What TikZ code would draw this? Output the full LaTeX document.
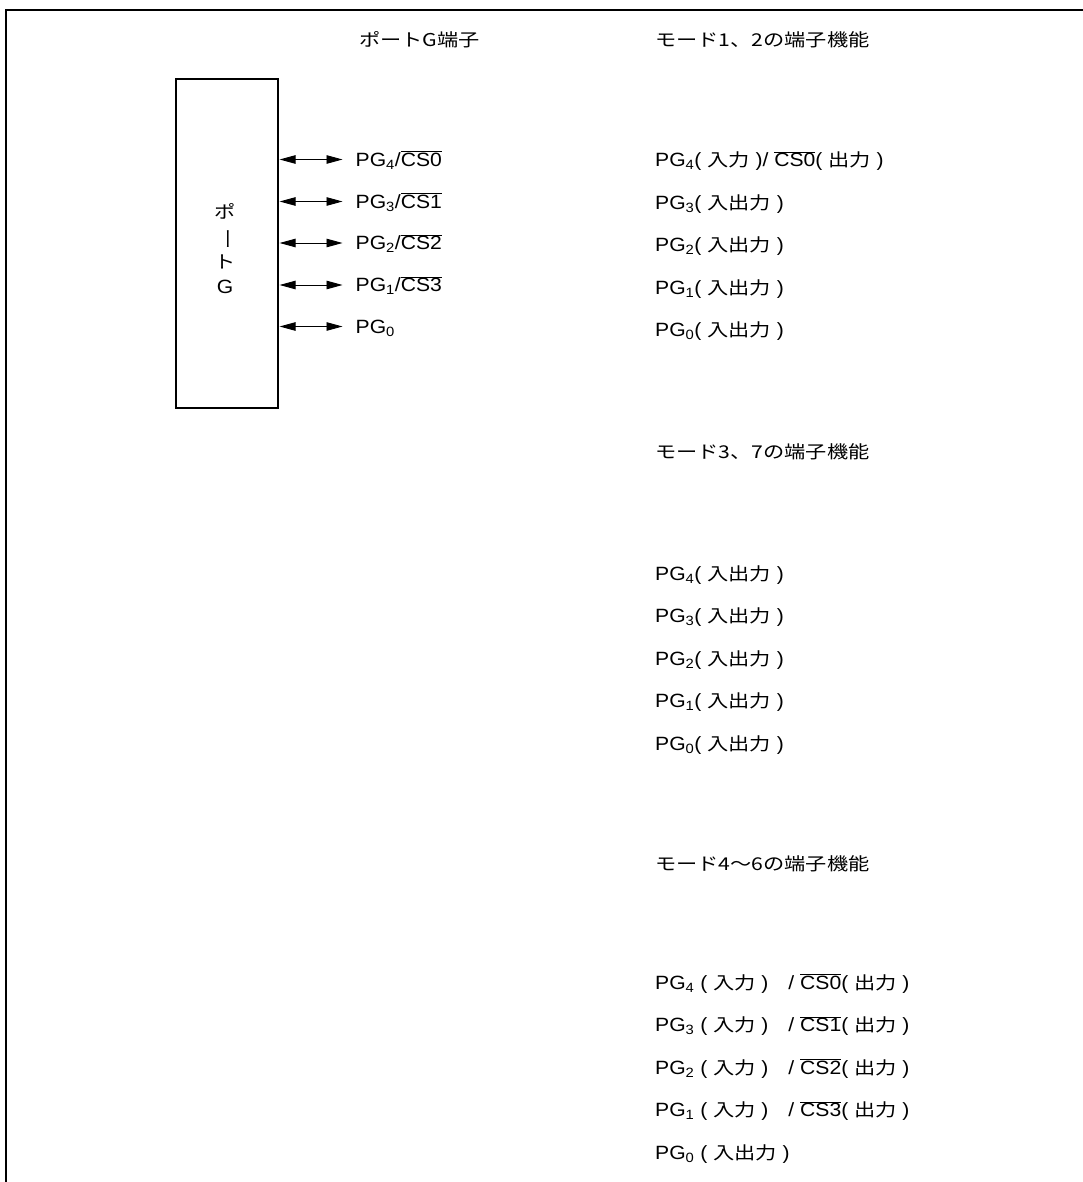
\documentclass[tikz,border=0pt]{standalone}
\usepackage{fontspec}
\usepackage{graphicx}
\setmainfont{Liberation Sans}[FakeStretch=1.1]
\newfontfamily\jpfont{Noto Sans CJK JP}[Scale=0.92,FakeStretch=1.2]
\usetikzlibrary{arrows.meta,positioning}
\newcommand{\jtxt}[1]{{\jpfont #1}}
\newcommand{\csbar}[1]{$\overline{\mbox{#1}}$}
\tikzset{
  pageedge/.style={line width=2pt},
  portbox/.style ={draw,line width=1.2pt,minimum width=102pt,minimum height=329pt,
                   inner sep=0pt},
  vtxt/.style    ={align=center,inner sep=0pt},
  txt/.style     ={anchor=west,inner sep=0pt,text height=13.6pt,text depth=0pt},
  bidir/.style   ={{Triangle[length=16pt,width=8.5pt]}-{Triangle[length=16pt,width=8.5pt]},
                   line width=0.9pt,shorten <=1pt,shorten >=13pt},
}

\begin{document}
\begin{tikzpicture}[x=1pt, y=-1pt, font=\fontsize{19.2}{25}\selectfont]
\useasboundingbox (0,0) rectangle (1083,1182);
\draw[pageedge] (1083,10) -- (6,10) -- (6,1182);

% port G block and its pins
\node[txt] (hdPort) at (359,40) {\jtxt{ポートG端子}};
\node[portbox] (portG) at (227,243.5) {};
\node[vtxt] (portGtxt) at (225,248.5)
  {\jtxt{ポ}\\\jtxt{\rotatebox[origin=c]{-90}{ー}}\\\jtxt{ト}\\G};

\node[txt] (pinG4) at (355.5,159.5) {PG\textsubscript{4}/\csbar{CS0}};
\node[txt] (pinG3) at (355.5,201.5) {PG\textsubscript{3}/\csbar{CS1}};
\node[txt] (pinG2) at (355.5,243)   {PG\textsubscript{2}/\csbar{CS2}};
\node[txt] (pinG1) at (355.5,285)   {PG\textsubscript{1}/\csbar{CS3}};
\node[txt] (pinG0) at (355.5,326.5) {PG\textsubscript{0}};
\draw[bidir] (portG.east |- pinG4.west) -- (pinG4.west);
\draw[bidir] (portG.east |- pinG3.west) -- (pinG3.west);
\draw[bidir] (portG.east |- pinG2.west) -- (pinG2.west);
\draw[bidir] (portG.east |- pinG1.west) -- (pinG1.west);
\draw[bidir] (portG.east |- pinG0.west) -- (pinG0.west);

% modes 1, 2
\node[txt] (hdModeA) at (655,40) {\jtxt{モード1、2の端子機能}};
\node[txt] (modeA4) at (655,160)   {PG\textsubscript{4}( \jtxt{入力} )/ \csbar{CS0}( \jtxt{出力} )};
\node[txt] (modeA3) at (655,202.5) {PG\textsubscript{3}( \jtxt{入出力} )};
\node[txt] (modeA2) at (655,245)   {PG\textsubscript{2}( \jtxt{入出力} )};
\node[txt] (modeA1) at (655,287.5) {PG\textsubscript{1}( \jtxt{入出力} )};
\node[txt] (modeA0) at (655,330)   {PG\textsubscript{0}( \jtxt{入出力} )};

% modes 3, 7
\node[txt] (hdModeB) at (655,452) {\jtxt{モード3、7の端子機能}};
\node[txt] (modeB4) at (655,573.5) {PG\textsubscript{4}( \jtxt{入出力} )};
\node[txt] (modeB3) at (655,616)   {PG\textsubscript{3}( \jtxt{入出力} )};
\node[txt] (modeB2) at (655,658.5) {PG\textsubscript{2}( \jtxt{入出力} )};
\node[txt] (modeB1) at (655,701)   {PG\textsubscript{1}( \jtxt{入出力} )};
\node[txt] (modeB0) at (655,743.5) {PG\textsubscript{0}( \jtxt{入出力} )};

% modes 4 to 6
\node[txt] (hdModeC) at (655,864) {\jtxt{モード4～6の端子機能}};
\node[txt] (modeC4) at (655,982.5)
  {PG\textsubscript{4} ( \jtxt{入力} )\hspace{20pt}/ \csbar{CS0}( \jtxt{出力} )};
\node[txt] (modeC3) at (655,1025)
  {PG\textsubscript{3} ( \jtxt{入力} )\hspace{20pt}/ \csbar{CS1}( \jtxt{出力} )};
\node[txt] (modeC2) at (655,1067.5)
  {PG\textsubscript{2} ( \jtxt{入力} )\hspace{20pt}/ \csbar{CS2}( \jtxt{出力} )};
\node[txt] (modeC1) at (655,1110)
  {PG\textsubscript{1} ( \jtxt{入力} )\hspace{20pt}/ \csbar{CS3}( \jtxt{出力} )};
\node[txt] (modeC0) at (655,1152.5) {PG\textsubscript{0} ( \jtxt{入出力} )};
\end{tikzpicture}
\end{document}
